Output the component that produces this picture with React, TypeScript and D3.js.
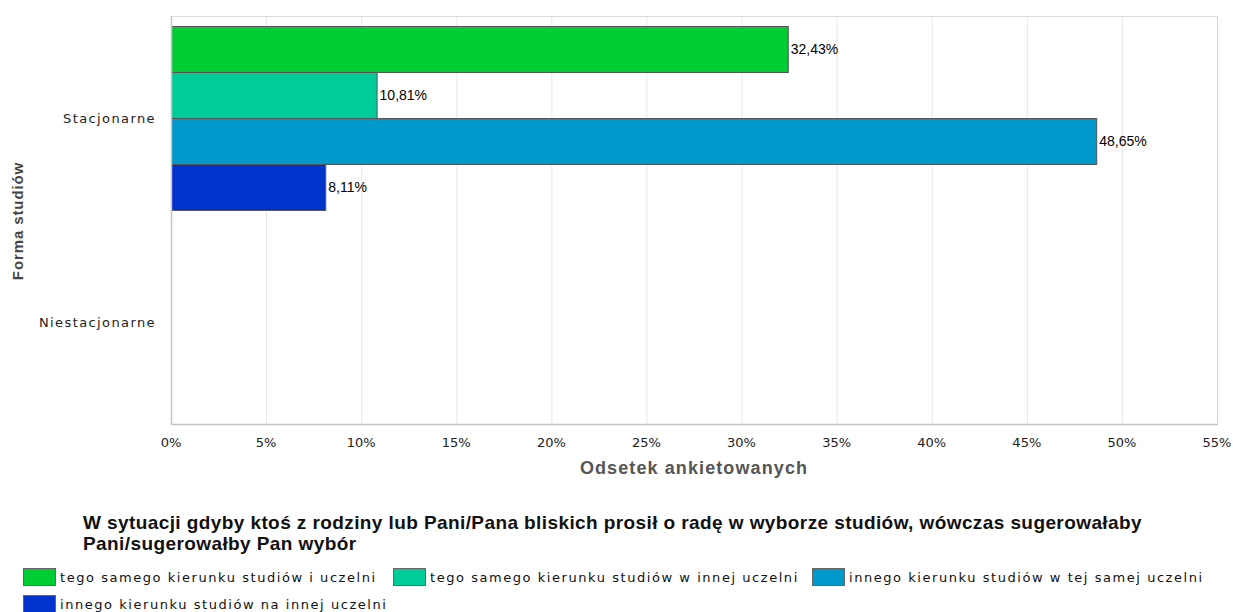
import React from "react";
import * as d3 from "d3";

const categories = ["Stacjonarne", "Niestacjonarne"];
const seriesNames = [
  "tego samego kierunku studiów i uczelni",
  "tego samego kierunku studiów w innej uczelni",
  "innego kierunku studiów w tej samej uczelni",
  "innego kierunku studiów na innej uczelni",
];
const seriesColors = ["#00CC33", "#00CC99", "#0099CC", "#0033CC"];
// values per series, for [Stacjonarne, Niestacjonarne]; null = no data
const seriesValues: (number | null)[][] = [
  [32.43, null],
  [10.81, null],
  [48.65, null],
  [8.11, null],
];
const xTicks = [0, 5, 10, 15, 20, 25, 30, 35, 40, 45, 50, 55];
const xTitle = "Odsetek ankietowanych";
const yTitle = "Forma studiów";
const legendTitle = [
  "W sytuacji gdyby ktoś z rodziny lub Pani/Pana bliskich prosił o radę w wyborze studiów, wówczas sugerowałaby",
  "Pani/sugerowałby Pan wybór",
];

const W = 1233;
const H = 612;
const M = { left: 171, right: 1217, top: 16, bottom: 424 };

// legend layout (positions only)
const legendPos = [
  [23, 568],
  [393, 568],
  [812, 568],
  [23, 595],
];
const titleFont = "bold 19px 'Liberation Sans'";
const titleLine1Width = 1059;

function measure(text: string, font: string) {
  const c = document.createElement("canvas").getContext("2d")!;
  c.font = font;
  return c.measureText(text).width;
}

export default function App() {
  const x = d3.scaleLinear().domain([0, 55]).range([M.left, M.right]);
  const y = d3.scaleBand().domain(categories).range([M.top, M.bottom]);
  const inner = d3
    .scaleBand()
    .domain(seriesNames)
    .range([0, y.bandwidth()])
    .paddingOuter(0.22);

  const fmt = (v: number) => v.toFixed(2).replace(".", ",") + "%";

  const tw = measure(legendTitle[0], titleFont);
  const titleLS = Math.max(0, (titleLine1Width - tw) / legendTitle[0].length);

  return (
    <svg width={W} height={H} style={{ position: "absolute", left: 0, top: 0, background: "#fff" }}>
      {/* grid */}
      {xTicks.map((t) => (
        <line key={"g" + t} x1={x(t) + 0.5} x2={x(t) + 0.5} y1={M.top} y2={M.bottom} stroke="#e8e8e8" strokeWidth={1} />
      ))}
      <line x1={M.left} x2={M.right} y1={M.top + 0.5} y2={M.top + 0.5} stroke="#dcdcdc" />
      <line x1={M.right + 0.5} x2={M.right + 0.5} y1={M.top} y2={M.bottom} stroke="#d4d4d4" />
      {/* bars */}
      {categories.map((cat, ci) =>
        seriesNames.map((s, si) => {
          const v = seriesValues[si][ci];
          if (v == null) return null;
          const by = Math.round((y(cat) as number) + (inner(s) as number));
          const bh = Math.round(inner.bandwidth());
          return (
            <g key={cat + s}>
              <rect
                x={x(0) + 0.5}
                y={by + 0.5}
                width={x(v) - x(0)}
                height={bh}
                fill={seriesColors[si]}
                stroke="#555"
                strokeWidth={1}
              />
              <text
                x={x(v) + 3}
                y={by + bh / 2}
                dy="0.35em"
                fontFamily="'Liberation Sans', Arial, sans-serif"
                fontSize={14}
                fill="#000"
              >
                {fmt(v)}
              </text>
            </g>
          );
        })
      )}
      {/* axes lines */}
      <line x1={M.left + 0.5} x2={M.left + 0.5} y1={M.top} y2={M.bottom} stroke="#c4c4c4" strokeWidth={1.5} />
      <line x1={M.left} x2={M.right + 1} y1={M.bottom + 0.5} y2={M.bottom + 0.5} stroke="#c4c4c4" strokeWidth={1.5} />
      {/* x ticks */}
      {xTicks.map((t) => (
        <text
          key={"t" + t}
          x={x(t)}
          y={M.bottom + 18}
          dy="0.35em"
          textAnchor="middle"
          fontFamily="'DejaVu Sans', sans-serif"
          fontSize={13}
          fill="#222"
        >
          {t + "%"}
        </text>
      ))}
      {/* y labels */}
      {categories.map((c) => (
        <text
          key={c}
          x={M.left - 15}
          y={(y(c) as number) + y.bandwidth() / 2}
          dy="0.35em"
          textAnchor="end"
          fontFamily="'DejaVu Sans', sans-serif"
          fontSize={13}
          letterSpacing={1.4}
          fill="#222"
        >
          {c}
        </text>
      ))}
      {/* axis titles */}
      <text
        x={694}
        y={468}
        dy="0.35em"
        textAnchor="middle"
        fontFamily="'Liberation Sans', Arial, sans-serif"
        fontWeight="bold"
        fontSize={18}
        letterSpacing={1.1}
        fill="#555"
      >
        {xTitle}
      </text>
      <text
        transform={`translate(18,221) rotate(-90)`}
        dy="0.35em"
        textAnchor="middle"
        fontFamily="'Liberation Sans', Arial, sans-serif"
        fontWeight="bold"
        fontSize={15}
        letterSpacing={0.9}
        fill="#444"
      >
        {yTitle}
      </text>
      {/* legend title */}
      {legendTitle.map((l, i) => (
        <text
          key={i}
          x={83}
          y={522 + i * 21}
          dy="0.35em"
          fontFamily="'Liberation Sans', Arial, sans-serif"
          fontWeight="bold"
          fontSize={19}
          letterSpacing={titleLS}
          fill="#111"
        >
          {l}
        </text>
      ))}
      {/* legend items */}
      {seriesNames.map((name, i) => {
        const [lx, ly] = legendPos[i];
        return (
          <g key={name}>
            <rect x={lx + 0.5} y={ly + 0.5} width={32} height={17} fill={seriesColors[i]} stroke="#666" />
            <text
              x={lx + 37}
              y={ly + 9}
              dy="0.35em"
              fontFamily="'DejaVu Sans', sans-serif"
              fontSize={13}
              letterSpacing={1.55}
              fill="#111"
            >
              {name}
            </text>
          </g>
        );
      })}
    </svg>
  );
}
